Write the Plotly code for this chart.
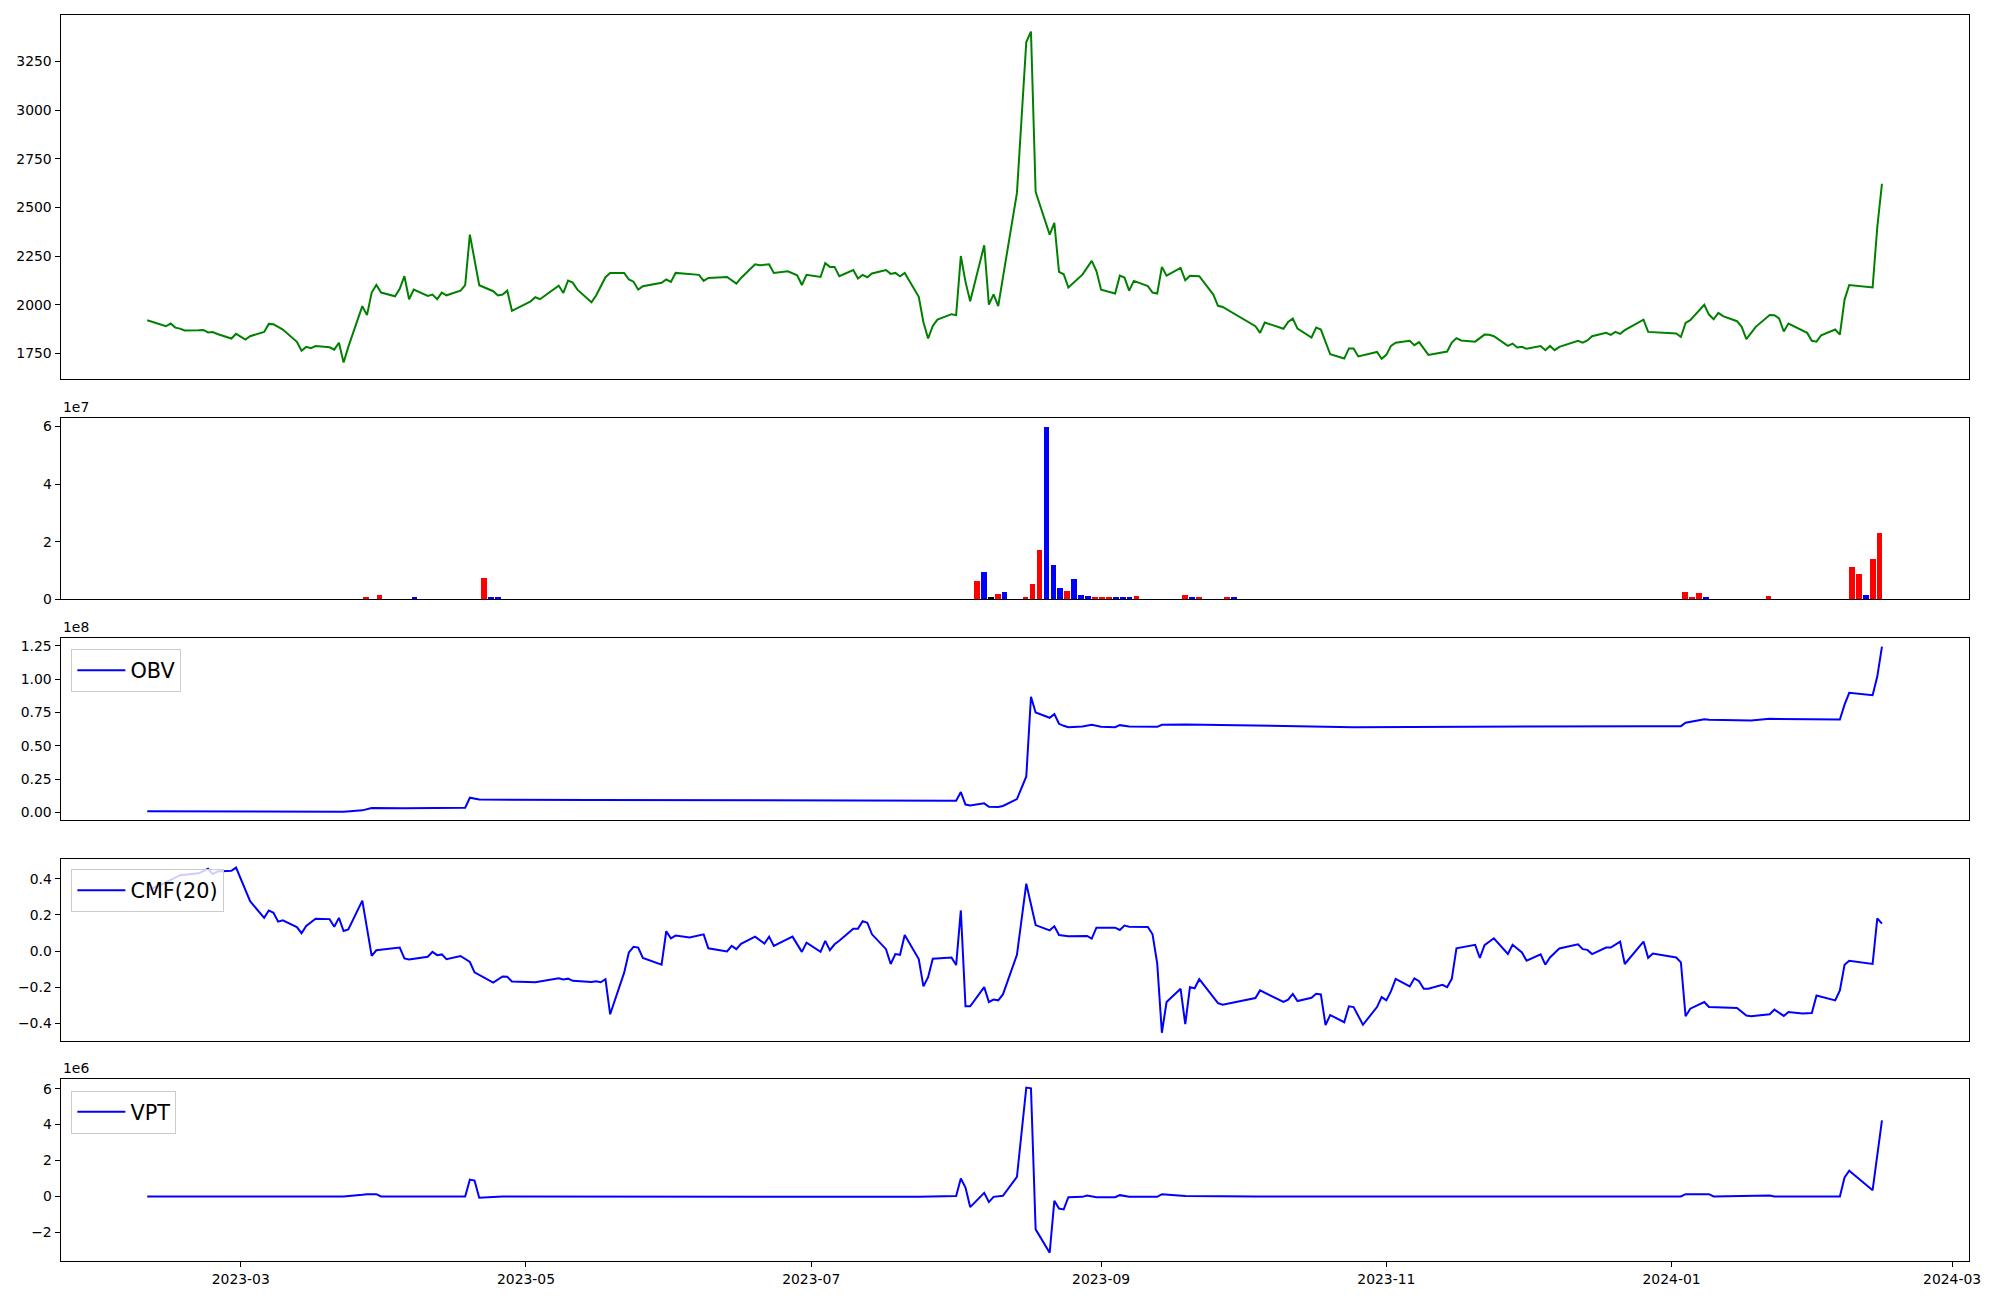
import pandas as pd
import plotly.graph_objects as go

# ---------------- data ----------------
price_dates = [
    "2023-02-09", "2023-02-13", "2023-02-14", "2023-02-15", "2023-02-16", "2023-02-17", "2023-02-20", "2023-02-21",
    "2023-02-22", "2023-02-23", "2023-02-24", "2023-02-27", "2023-02-28", "2023-03-02", "2023-03-03", "2023-03-06",
    "2023-03-07", "2023-03-08", "2023-03-09", "2023-03-10", "2023-03-13", "2023-03-14", "2023-03-15", "2023-03-16",
    "2023-03-17", "2023-03-20", "2023-03-21", "2023-03-22", "2023-03-23", "2023-03-24", "2023-03-27", "2023-03-28",
    "2023-03-29", "2023-03-30", "2023-03-31", "2023-04-03", "2023-04-04", "2023-04-05", "2023-04-06", "2023-04-07",
    "2023-04-10", "2023-04-11", "2023-04-12", "2023-04-13", "2023-04-14", "2023-04-17", "2023-04-18", "2023-04-19",
    "2023-04-21", "2023-04-24", "2023-04-25", "2023-04-26", "2023-04-27", "2023-04-28", "2023-05-02", "2023-05-03",
    "2023-05-04", "2023-05-08", "2023-05-09", "2023-05-10", "2023-05-11", "2023-05-12", "2023-05-15", "2023-05-16",
    "2023-05-18", "2023-05-19", "2023-05-22", "2023-05-23", "2023-05-24", "2023-05-25", "2023-05-26", "2023-05-30",
    "2023-05-31", "2023-06-01", "2023-06-02", "2023-06-07", "2023-06-08", "2023-06-09", "2023-06-13", "2023-06-15",
    "2023-06-16", "2023-06-19", "2023-06-20", "2023-06-22", "2023-06-23", "2023-06-26", "2023-06-28", "2023-06-29",
    "2023-06-30", "2023-07-03", "2023-07-04", "2023-07-05", "2023-07-06", "2023-07-07", "2023-07-10", "2023-07-11",
    "2023-07-12", "2023-07-13", "2023-07-14", "2023-07-17", "2023-07-18", "2023-07-19", "2023-07-20", "2023-07-21",
    "2023-07-24", "2023-07-25", "2023-07-26", "2023-07-27", "2023-07-28", "2023-07-31", "2023-08-01", "2023-08-02",
    "2023-08-03", "2023-08-04", "2023-08-07", "2023-08-08", "2023-08-09", "2023-08-10", "2023-08-11", "2023-08-14",
    "2023-08-16", "2023-08-17", "2023-08-18", "2023-08-21", "2023-08-22", "2023-08-23", "2023-08-24", "2023-08-25",
    "2023-08-28", "2023-08-30", "2023-08-31", "2023-09-01", "2023-09-04", "2023-09-05", "2023-09-06", "2023-09-07",
    "2023-09-08", "2023-09-11", "2023-09-12", "2023-09-13", "2023-09-14", "2023-09-15", "2023-09-18", "2023-09-19",
    "2023-09-20", "2023-09-22", "2023-09-25", "2023-09-26", "2023-09-27", "2023-10-04", "2023-10-05", "2023-10-06",
    "2023-10-10", "2023-10-11", "2023-10-12", "2023-10-13", "2023-10-16", "2023-10-17", "2023-10-18", "2023-10-20",
    "2023-10-23", "2023-10-24", "2023-10-25", "2023-10-26", "2023-10-30", "2023-10-31", "2023-11-01", "2023-11-02",
    "2023-11-03", "2023-11-06", "2023-11-07", "2023-11-08", "2023-11-10", "2023-11-14", "2023-11-15", "2023-11-16",
    "2023-11-17", "2023-11-20", "2023-11-22", "2023-11-23", "2023-11-24", "2023-11-27", "2023-11-28", "2023-11-29",
    "2023-11-30", "2023-12-01", "2023-12-04", "2023-12-05", "2023-12-06", "2023-12-07", "2023-12-08", "2023-12-11",
    "2023-12-12", "2023-12-13", "2023-12-14", "2023-12-15", "2023-12-18", "2023-12-19", "2023-12-20", "2023-12-21",
    "2023-12-22", "2023-12-26", "2023-12-27", "2024-01-02", "2024-01-03", "2024-01-04", "2024-01-05", "2024-01-08",
    "2024-01-09", "2024-01-10", "2024-01-11", "2024-01-12", "2024-01-15", "2024-01-16", "2024-01-17", "2024-01-19",
    "2024-01-22", "2024-01-23", "2024-01-24", "2024-01-25", "2024-01-26", "2024-01-30", "2024-01-31", "2024-02-01",
    "2024-02-02", "2024-02-05", "2024-02-06", "2024-02-07", "2024-02-08", "2024-02-13", "2024-02-14", "2024-02-15",
]
price_values = [
    1921, 1890, 1904, 1883, 1878, 1868, 1869, 1871,
    1858, 1860, 1850, 1827, 1851, 1822, 1839, 1861,
    1902, 1900, 1887, 1873, 1810, 1764, 1784, 1777,
    1788, 1782, 1770, 1805, 1704, 1784, 1993, 1947,
    2063, 2102, 2063, 2044, 2082, 2147, 2029, 2078,
    2046, 2053, 2029, 2063, 2049, 2073, 2101, 2361,
    2101, 2070, 2048, 2053, 2073, 1969, 2018, 2039,
    2029, 2099, 2061, 2125, 2114, 2078, 2013, 2048,
    2142, 2164, 2164, 2130, 2119, 2078, 2096, 2113,
    2130, 2118, 2164, 2154, 2123, 2138, 2143, 2109,
    2138, 2208, 2203, 2208, 2164, 2172, 2152, 2102,
    2154, 2143, 2214, 2195, 2195, 2147, 2179, 2135,
    2154, 2142, 2161, 2179, 2159, 2164, 2147, 2164,
    2041, 1911, 1827, 1892, 1924, 1952, 1947, 2251,
    2118, 2018, 2306, 2001, 2054, 1993, 2140, 2575,
    3350, 3404, 2580, 2361, 2421, 2169, 2157, 2089,
    2155, 2226, 2174, 2078, 2058, 2150, 2140, 2073,
    2123, 2096, 2063, 2058, 2195, 2150, 2190, 2126,
    2149, 2147, 2053, 1995, 1989, 1890, 1856, 1909,
    1877, 1912, 1930, 1878, 1832, 1883, 1873, 1746,
    1724, 1776, 1776, 1735, 1758, 1723, 1743, 1789,
    1805, 1815, 1793, 1808, 1743, 1760, 1806, 1829,
    1817, 1811, 1847, 1846, 1839, 1789, 1801, 1781,
    1784, 1774, 1788, 1767, 1789, 1767, 1784, 1805,
    1815, 1806, 1817, 1839, 1856, 1846, 1861, 1851,
    1870, 1924, 1861, 1853, 1835, 1907, 1921, 2000,
    1950, 1926, 1959, 1942, 1916, 1887, 1824, 1887,
    1948, 1947, 1930, 1863, 1904, 1856, 1815, 1811,
    1844, 1873, 1847, 2027, 2102, 2089, 2400, 2622,
]

# volume bars: trading-day index (categorical position), value, colour
n_trading_days = 250
vol_idx = [31, 33, 38, 48, 49, 50, 119, 120, 121, 122, 123, 126, 127, 128, 129, 130, 131, 132, 133, 134,
           135, 136, 137, 138, 139, 140, 141, 142, 149, 150, 151, 155, 156, 221, 222, 223, 224, 233,
           245, 246, 247, 248, 249]
vol_values = [0.69e6, 1.49e6, 0.46e6, 7.36e6, 0.8e6, 0.46e6, 6.3e6, 9.4e6, 0.8e6, 1.6e6, 2.5e6, 0.8e6, 5.3e6,
              1.70e7, 5.98e7, 1.18e7, 3.9e6, 2.87e6, 7.0e6, 1.49e6, 1.15e6, 0.46e6, 0.8e6, 0.46e6, 0.8e6,
              0.46e6, 0.46e6, 1.15e6, 1.49e6, 0.46e6, 0.46e6, 0.46e6, 0.46e6, 2.53e6, 0.46e6, 2.18e6, 0.46e6,
              1.15e6, 1.115e7, 8.7e6, 1.49e6, 1.39e7, 2.29e7]
vol_colors = ["red", "red", "blue", "red", "blue", "blue", "red", "blue", "black", "red", "blue", "red", "red",
              "red", "blue", "blue", "blue", "red", "blue", "blue", "blue", "red", "red", "red", "blue",
              "blue", "blue", "red", "red", "blue", "red", "red", "blue", "red", "red", "red", "blue",
              "red", "red", "red", "blue", "red", "red"]

obv_dates = ["2023-02-09", "2023-03-02", "2023-03-14", "2023-03-23", "2023-03-27", "2023-03-29", "2023-04-05",
             "2023-04-18", "2023-04-19", "2023-04-20", "2023-04-21", "2023-05-15", "2023-07-28", "2023-08-01",
             "2023-08-02", "2023-08-03", "2023-08-04", "2023-08-07", "2023-08-08", "2023-08-10", "2023-08-11",
             "2023-08-14", "2023-08-16", "2023-08-17", "2023-08-18", "2023-08-21", "2023-08-22", "2023-08-23",
             "2023-08-24", "2023-08-25", "2023-08-28", "2023-08-30", "2023-09-01", "2023-09-04", "2023-09-05",
             "2023-09-07", "2023-09-13", "2023-09-14", "2023-09-19", "2023-10-25", "2023-12-26", "2024-01-03",
             "2024-01-04", "2024-01-08", "2024-01-09", "2024-01-18", "2024-01-22", "2024-02-06", "2024-02-07",
             "2024-02-08", "2024-02-13", "2024-02-14", "2024-02-15"]
obv_values = [0.75e6, 0.6e6, 0.25e6, 0.5e6, 1.5e6, 3.25e6, 3.0e6,
              3.5e6, 1.1e7, 1.01e7, 9.6e6, 9.25e6, 9.0e6, 8.75e6,
              1.525e7, 5.85e6, 5.25e6, 6.75e6, 4.2e6, 4.0e6, 4.8e6,
              1.0e7, 2.7e7, 8.68e7, 7.5e7, 7.1e7, 7.375e7, 6.65e7,
              6.5e7, 6.4e7, 6.45e7, 6.575e7, 6.425e7, 6.4e7, 6.55e7,
              6.45e7, 6.425e7, 6.575e7, 6.6e7, 6.4e7, 6.475e7, 6.475e7,
              6.725e7, 7.0e7, 6.95e7, 6.9e7, 7.025e7, 6.975e7, 8.09e7,
              8.975e7, 8.8e7, 1.02e8, 1.245e8]

cmf_dates = [
    "2023-02-09", "2023-02-13", "2023-02-16", "2023-02-20", "2023-02-22", "2023-02-23", "2023-02-24", "2023-02-27",
    "2023-02-28", "2023-03-02", "2023-03-03", "2023-03-06", "2023-03-07", "2023-03-08", "2023-03-09", "2023-03-10",
    "2023-03-13", "2023-03-14", "2023-03-15", "2023-03-17", "2023-03-20", "2023-03-21", "2023-03-22", "2023-03-23",
    "2023-03-24", "2023-03-27", "2023-03-29", "2023-03-30", "2023-04-03", "2023-04-04", "2023-04-05", "2023-04-06",
    "2023-04-10", "2023-04-11", "2023-04-12", "2023-04-13", "2023-04-14", "2023-04-17", "2023-04-19", "2023-04-20",
    "2023-04-24", "2023-04-26", "2023-04-27", "2023-04-28", "2023-05-03", "2023-05-08", "2023-05-09", "2023-05-10",
    "2023-05-11", "2023-05-15", "2023-05-16", "2023-05-17", "2023-05-18", "2023-05-19", "2023-05-22", "2023-05-23",
    "2023-05-24", "2023-05-25", "2023-05-26", "2023-05-30", "2023-05-31", "2023-06-01", "2023-06-02", "2023-06-05",
    "2023-06-08", "2023-06-09", "2023-06-13", "2023-06-14", "2023-06-15", "2023-06-16", "2023-06-19", "2023-06-21",
    "2023-06-22", "2023-06-23", "2023-06-27", "2023-06-28", "2023-06-29", "2023-06-30", "2023-07-03", "2023-07-04",
    "2023-07-05", "2023-07-06", "2023-07-07", "2023-07-10", "2023-07-11", "2023-07-12", "2023-07-13", "2023-07-14",
    "2023-07-17", "2023-07-18", "2023-07-19", "2023-07-20", "2023-07-21", "2023-07-24", "2023-07-25", "2023-07-26",
    "2023-07-27", "2023-07-31", "2023-08-01", "2023-08-02", "2023-08-03", "2023-08-04", "2023-08-07", "2023-08-08",
    "2023-08-09", "2023-08-10", "2023-08-11", "2023-08-14", "2023-08-16", "2023-08-18", "2023-08-21", "2023-08-22",
    "2023-08-23", "2023-08-25", "2023-08-29", "2023-08-30", "2023-08-31", "2023-09-04", "2023-09-05", "2023-09-06",
    "2023-09-07", "2023-09-11", "2023-09-12", "2023-09-13", "2023-09-14", "2023-09-15", "2023-09-18", "2023-09-19",
    "2023-09-20", "2023-09-21", "2023-09-22", "2023-09-26", "2023-09-27", "2023-10-04", "2023-10-05", "2023-10-10",
    "2023-10-11", "2023-10-12", "2023-10-13", "2023-10-16", "2023-10-17", "2023-10-18", "2023-10-19", "2023-10-20",
    "2023-10-23", "2023-10-24", "2023-10-25", "2023-10-27", "2023-10-30", "2023-10-31", "2023-11-01", "2023-11-02",
    "2023-11-03", "2023-11-06", "2023-11-07", "2023-11-08", "2023-11-09", "2023-11-10", "2023-11-13", "2023-11-14",
    "2023-11-15", "2023-11-16", "2023-11-20", "2023-11-21", "2023-11-22", "2023-11-24", "2023-11-27", "2023-11-28",
    "2023-11-30", "2023-12-01", "2023-12-04", "2023-12-05", "2023-12-06", "2023-12-08", "2023-12-12", "2023-12-13",
    "2023-12-14", "2023-12-15", "2023-12-18", "2023-12-19", "2023-12-21", "2023-12-22", "2023-12-26", "2023-12-27",
    "2023-12-28", "2024-01-02", "2024-01-03", "2024-01-04", "2024-01-05", "2024-01-08", "2024-01-09", "2024-01-15",
    "2024-01-17", "2024-01-18", "2024-01-22", "2024-01-23", "2024-01-25", "2024-01-26", "2024-01-29", "2024-01-31",
    "2024-02-01", "2024-02-05", "2024-02-06", "2024-02-07", "2024-02-08", "2024-02-13", "2024-02-14", "2024-02-15",
]
cmf_values = [
    0.334, 0.38, 0.42, 0.43, 0.455, 0.426, 0.44, 0.444,
    0.462, 0.34, 0.276, 0.184, 0.225, 0.212, 0.163, 0.17,
    0.133, 0.099, 0.139, 0.179, 0.177, 0.135, 0.184, 0.111,
    0.12, 0.279, -0.026, 0.005, 0.02, 0.02, -0.04, -0.046,
    -0.031, -0.004, -0.022, -0.018, -0.044, -0.027, -0.06, -0.117,
    -0.174, -0.14, -0.142, -0.168, -0.172, -0.15, -0.157, -0.152,
    -0.164, -0.17, -0.166, -0.172, -0.155, -0.349, -0.119, -0.007,
    0.024, 0.02, -0.038, -0.075, 0.11, 0.071, 0.086, 0.075,
    0.093, 0.016, -0.002, 0.029, 0.011, 0.04, 0.08, 0.042,
    0.08, 0.029, 0.08, 0.038, -0.004, 0.047, -0.004, 0.057,
    0.005, 0.038, 0.057, 0.124, 0.124, 0.166, 0.157, 0.093,
    0.011, -0.071, -0.016, -0.02, 0.089, -0.044, -0.195, -0.144,
    -0.042, -0.035, -0.077, 0.225, -0.305, -0.305, -0.199, -0.281,
    -0.268, -0.272, -0.239, -0.02, 0.373, 0.144, 0.115, 0.137,
    0.089, 0.082, 0.084, 0.069, 0.13, 0.13, 0.117, 0.141,
    0.135, 0.133, 0.093, -0.068, -0.451, -0.281, -0.208, -0.404,
    -0.199, -0.205, -0.155, -0.287, -0.296, -0.259, -0.217, -0.281,
    -0.268, -0.236, -0.276, -0.258, -0.236, -0.239, -0.409, -0.353,
    -0.393, -0.305, -0.309, -0.407, -0.309, -0.254, -0.272, -0.221,
    -0.153, -0.195, -0.15, -0.166, -0.208, -0.208, -0.186, -0.199,
    -0.153, 0.016, 0.035, -0.038, 0.033, 0.071, -0.016, 0.035,
    -0.007, -0.053, -0.018, -0.075, -0.035, 0.015, 0.038, 0.011,
    0.007, -0.016, 0.02, 0.02, 0.053, -0.071, 0.053, -0.037,
    -0.013, -0.035, -0.062, -0.36, -0.318, -0.281, -0.309, -0.314,
    -0.356, -0.36, -0.349, -0.323, -0.358, -0.336, -0.345, -0.342,
    -0.245, -0.272, -0.217, -0.075, -0.053, -0.071, 0.181, 0.152,
]

vpt_dates = ["2023-02-09", "2023-03-23", "2023-03-27", "2023-03-28", "2023-03-30", "2023-03-31", "2023-04-18",
             "2023-04-19", "2023-04-20", "2023-04-21", "2023-04-26", "2023-07-24", "2023-08-01", "2023-08-02",
             "2023-08-03", "2023-08-04", "2023-08-07", "2023-08-08", "2023-08-09", "2023-08-10", "2023-08-11",
             "2023-08-14", "2023-08-16", "2023-08-17", "2023-08-18", "2023-08-21", "2023-08-22", "2023-08-23",
             "2023-08-24", "2023-08-25", "2023-08-28", "2023-08-29", "2023-08-31", "2023-09-04", "2023-09-05",
             "2023-09-07", "2023-09-13", "2023-09-14", "2023-09-19", "2023-10-04", "2024-01-03", "2024-01-04",
             "2024-01-09", "2024-01-10", "2024-01-18", "2024-01-22", "2024-01-23", "2024-02-06", "2024-02-07",
             "2024-02-08", "2024-02-13", "2024-02-14", "2024-02-15"]
vpt_values = [0.0, 0.0, 0.09e6, 0.13e6, 0.13e6, 0.0, 0.0,
              0.94e6, 0.89e6, -0.074e6, 0.0, -0.02e6, 0.02e6, 1.0e6,
              0.5e6, -0.59e6, 0.2e6, -0.31e6, -0.02e6, 0.02e6, 0.04e6,
              1.09e6, 6.06e6, 6.02e6, -1.83e6, -3.13e6, -0.24e6, -0.67e6,
              -0.72e6, -0.04e6, -0.02e6, 0.056e6, -0.04e6, -0.04e6, 0.074e6,
              -0.02e6, -0.02e6, 0.13e6, 0.02e6, 0.0, 0.0, 0.13e6,
              0.13e6, 0.0, 0.02e6, 0.056e6, 0.0, 0.0, 1.06e6,
              1.43e6, 0.35e6, 2.3e6, 4.24e6]

price_ticks = [1750, 2000, 2250, 2500, 2750, 3000, 3250]
vol_ticks = [0, 2e7, 4e7, 6e7]
vol_tick_text = ["0", "2", "4", "6"]
obv_ticks = [0, 0.25e8, 0.5e8, 0.75e8, 1.0e8, 1.25e8]
obv_tick_text = ["0.00", "0.25", "0.50", "0.75", "1.00", "1.25"]
cmf_ticks = [-0.4, -0.2, 0.0, 0.2, 0.4]
cmf_tick_text = ["\u22120.4", "\u22120.2", "0.0", "0.2", "0.4"]
vpt_ticks = [-2e6, 0, 2e6, 4e6, 6e6]
vpt_tick_text = ["\u22122", "0", "2", "4", "6"]
date_ticks = ["2023-03-01", "2023-05-01", "2023-07-01", "2023-09-01", "2023-11-01", "2024-01-01", "2024-03-01"]

# ---------------- layout helpers ----------------
W, H = 2000, 1300
FONT = "DejaVu Sans"
TICKFONT = dict(family=FONT, size=13.9, color="black")
x_dom = [60.5 / W, 1968.7 / W]
panels_px = [(15, 379), (418.3, 599.3), (638.3, 820.3), (859.3, 1041), (1079.3, 1261)]
y_doms = [[1 - b / H, 1 - t / H] for t, b in panels_px]


def pad_range(vals):
    lo, hi = min(vals), max(vals)
    p = 0.05 * (hi - lo)
    return [lo - p, hi + p]


all_dates = pd.to_datetime(price_dates)
t0, t1 = all_dates.min(), all_dates.max()
tpad = (t1 - t0) * 0.05
date_range = [(t0 - tpad).isoformat(), (t1 + tpad).isoformat()]

fig = go.Figure()
line_w = 2

fig.add_trace(go.Scatter(x=price_dates, y=price_values, mode="lines", line=dict(color="green", width=line_w),
                         showlegend=False, xaxis="x", yaxis="y"))
fig.add_trace(go.Bar(x=vol_idx, y=vol_values, marker=dict(color=vol_colors, line=dict(width=0)), width=0.8,
                     showlegend=False, xaxis="x2", yaxis="y2"))
fig.add_trace(go.Scatter(x=obv_dates, y=obv_values, mode="lines", name="OBV", line=dict(color="blue", width=line_w),
                         xaxis="x3", yaxis="y3", legend="legend"))
fig.add_trace(go.Scatter(x=cmf_dates, y=cmf_values, mode="lines", name="CMF(20)",
                         line=dict(color="blue", width=line_w), xaxis="x4", yaxis="y4", legend="legend2"))
fig.add_trace(go.Scatter(x=vpt_dates, y=vpt_values, mode="lines", name="VPT", line=dict(color="blue", width=line_w),
                         xaxis="x5", yaxis="y5", legend="legend3"))

common_ax = dict(showline=True, mirror=True, linecolor="black", linewidth=1, showgrid=False, zeroline=False,
                 automargin=False, ticks="outside", ticklen=5, tickwidth=1, tickcolor="black", tickfont=TICKFONT)

layout = dict(width=W, height=H, autosize=False, margin=dict(l=0, r=0, t=0, b=0, pad=0, autoexpand=False),
              template="none", plot_bgcolor="white", paper_bgcolor="white",
              font=dict(family=FONT, color="black"), bargap=0)

for i in range(5):
    xn = "xaxis" if i == 0 else f"xaxis{i + 1}"
    yn = "yaxis" if i == 0 else f"yaxis{i + 1}"
    yref = "y" if i == 0 else f"y{i + 1}"
    xref = "x" if i == 0 else f"x{i + 1}"
    xa = dict(common_ax, domain=x_dom, anchor=yref)
    if i == 1:
        n = n_trading_days
        span = (n - 1) + 0.8
        xa.update(type="linear", range=[-0.4 - 0.05 * span, n - 1 + 0.4 + 0.05 * span], showticklabels=False,
                  ticks="")
    else:
        xa.update(type="date", range=date_range)
        if i == 4:
            xa.update(tickvals=date_ticks, tickformat="%Y-%m")
        else:
            xa.update(showticklabels=False, ticks="")
    layout[xn] = xa
    layout[yn] = dict(common_ax, domain=y_doms[i], anchor=xref)

layout["yaxis"].update(range=pad_range(price_values), tickvals=price_ticks)
layout["yaxis2"].update(range=[0, 1.05 * max(vol_values)], tickvals=vol_ticks, ticktext=vol_tick_text)
layout["yaxis3"].update(range=pad_range(obv_values), tickvals=obv_ticks, ticktext=obv_tick_text)
layout["yaxis4"].update(range=pad_range(cmf_values), tickvals=cmf_ticks, ticktext=cmf_tick_text)
layout["yaxis5"].update(range=pad_range(vpt_values), tickvals=vpt_ticks, ticktext=vpt_tick_text)

legend_common = dict(xanchor="left", yanchor="top", bgcolor="rgba(255,255,255,0.8)", bordercolor="#cccccc",
                     borderwidth=1, font=dict(family=FONT, size=20.8, color="black"), itemwidth=48)
layout["legend"] = dict(legend_common, x=71.4 / W, y=1 - 649.3 / H)
layout["legend2"] = dict(legend_common, x=71.4 / W, y=1 - 869.3 / H)
layout["legend3"] = dict(legend_common, x=71.4 / W, y=1 - 1090.7 / H)

annotations = []
for txt, (top, _b) in zip(["1e7", "1e8", "1e6"], [panels_px[1], panels_px[2], panels_px[4]]):
    annotations.append(dict(text=txt, xref="paper", yref="paper", x=60.5 / W, y=1 - top / H, xanchor="left",
                            yanchor="bottom", showarrow=False, font=dict(family=FONT, size=13.9, color="black"),
                            yshift=1))
layout["annotations"] = annotations

fig.update_layout(**layout)

page_js = (
    "var gd=document.getElementById('{plot_id}');"
    "gd.style.position='absolute';gd.style.left='0px';gd.style.top='0px';"
    "var de=document.documentElement, b=document.body;"
    "de.style.margin='0';de.style.padding='0';de.style.overflow='hidden';"
    "b.style.margin='0';b.style.padding='0';b.style.overflow='hidden';"
)

fig.write_html("out.html", config={"displayModeBar": False, "responsive": False}, post_script=page_js)
